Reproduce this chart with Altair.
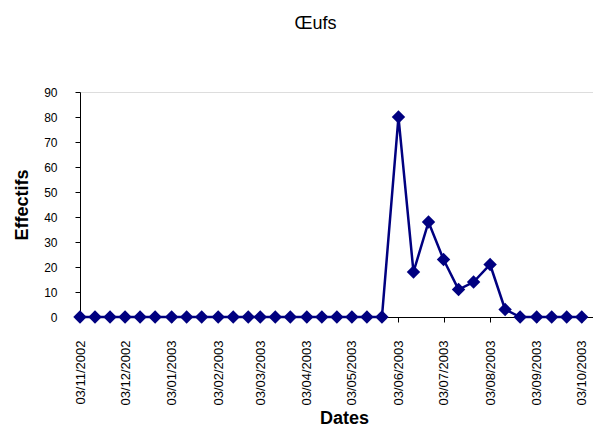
import altair as alt
import pandas as pd

# Sampling dates (every ten days: the 3rd, 13th and 23rd of each month)
dates = [
    "2002-11-03", "2002-11-13", "2002-11-23",
    "2002-12-03", "2002-12-13", "2002-12-23",
    "2003-01-03", "2003-01-13", "2003-01-23",
    "2003-02-03", "2003-02-13", "2003-02-23",
    "2003-03-03", "2003-03-13", "2003-03-23",
    "2003-04-03", "2003-04-13", "2003-04-23",
    "2003-05-03", "2003-05-13", "2003-05-23",
    "2003-06-03", "2003-06-13", "2003-06-23",
    "2003-07-03", "2003-07-13", "2003-07-23",
    "2003-08-03", "2003-08-13", "2003-08-23",
    "2003-09-03", "2003-09-13", "2003-09-23",
    "2003-10-03",
]

# Egg counts on each sampling date
effectifs = [
    0, 0, 0,
    0, 0, 0,
    0, 0, 0,
    0, 0, 0,
    0, 0, 0,
    0, 0, 0,
    0, 0, 0,
    80, 18, 38,
    23, 11, 14,
    21, 3, 0,
    0, 0, 0,
    0,
]

# Monthly tick dates on the time axis
tick_dates = [
    "2002-11-03", "2002-12-03", "2003-01-03", "2003-02-03",
    "2003-03-03", "2003-04-03", "2003-05-03", "2003-06-03",
    "2003-07-03", "2003-08-03", "2003-09-03", "2003-10-03",
]

y_ticks = [0, 10, 20, 30, 40, 50, 60, 70, 80, 90]

domain_start = "2002-11-03"
domain_end = "2003-10-10T12:00:00"


def to_ms(s):
    return int(pd.Timestamp(s, tz="UTC").value // 10**6)


df = pd.DataFrame({"date": dates, "effectifs": effectifs})

FONT = "Liberation Sans"
NAVY = "#000080"

x_enc = alt.X(
    "date:T",
    scale=alt.Scale(type="utc", domain=[to_ms(domain_start), to_ms(domain_end)], nice=False),
    axis=alt.Axis(
        values=[to_ms(d) for d in tick_dates],
        labelExpr="utcFormat(datum.value, '%d/%m/%Y')",
        labelAngle=-90,
        labelFont=FONT,
        labelFontSize=13,
        labelColor="#000000",
        labelPadding=18,
        labelOverlap=False,
        tickSize=5,
        tickColor="#000000",
        domainColor="#000000",
        grid=False,
        title="Dates",
        titleFont=FONT,
        titleFontSize=18,
        titleFontWeight="bold",
        titleColor="#000000",
        titleX=264,
        titleY=106,
        titleAlign="center",
        titleBaseline="alphabetic",
    ),
)

y_enc = alt.Y(
    "effectifs:Q",
    scale=alt.Scale(domain=[0, 90], nice=False),
    axis=alt.Axis(
        values=y_ticks,
        labelFont=FONT,
        labelFontSize=12,
        labelColor="#000000",
        labelPadding=18,
        tickSize=5,
        tickColor="#000000",
        domainColor="#000000",
        grid=False,
        title="Effectifs",
        titleFont=FONT,
        titleFontSize=18,
        titleFontWeight="bold",
        titleColor="#000000",
        titleAngle=-90,
        titleX=-58,
        titleY=112.5,
        titleAlign="center",
        titleBaseline="middle",
    ),
)

base = alt.Chart(df).encode(x=x_enc, y=y_enc)

line = base.mark_line(color=NAVY, strokeWidth=2.5)
points = base.mark_point(shape="diamond", filled=True, size=180, color=NAVY, opacity=1)

chart = (
    alt.layer(line, points)
    .properties(
        width=513,
        height=225,
        autosize=alt.AutoSizeParams(type="none"),
        padding={"left": 80, "top": 92, "right": 0, "bottom": 111},
        title=alt.TitleParams(
            text="Œufs",
            font=FONT,
            fontSize=18,
            fontWeight="normal",
            color="#000000",
            anchor="middle",
            dx=-21,
            offset=53,
        ),
    )
    .configure_view(strokeWidth=0)
    .configure(background="#ffffff")
)

chart.save("out.html", embed_options={"renderer": "svg", "actions": False})
